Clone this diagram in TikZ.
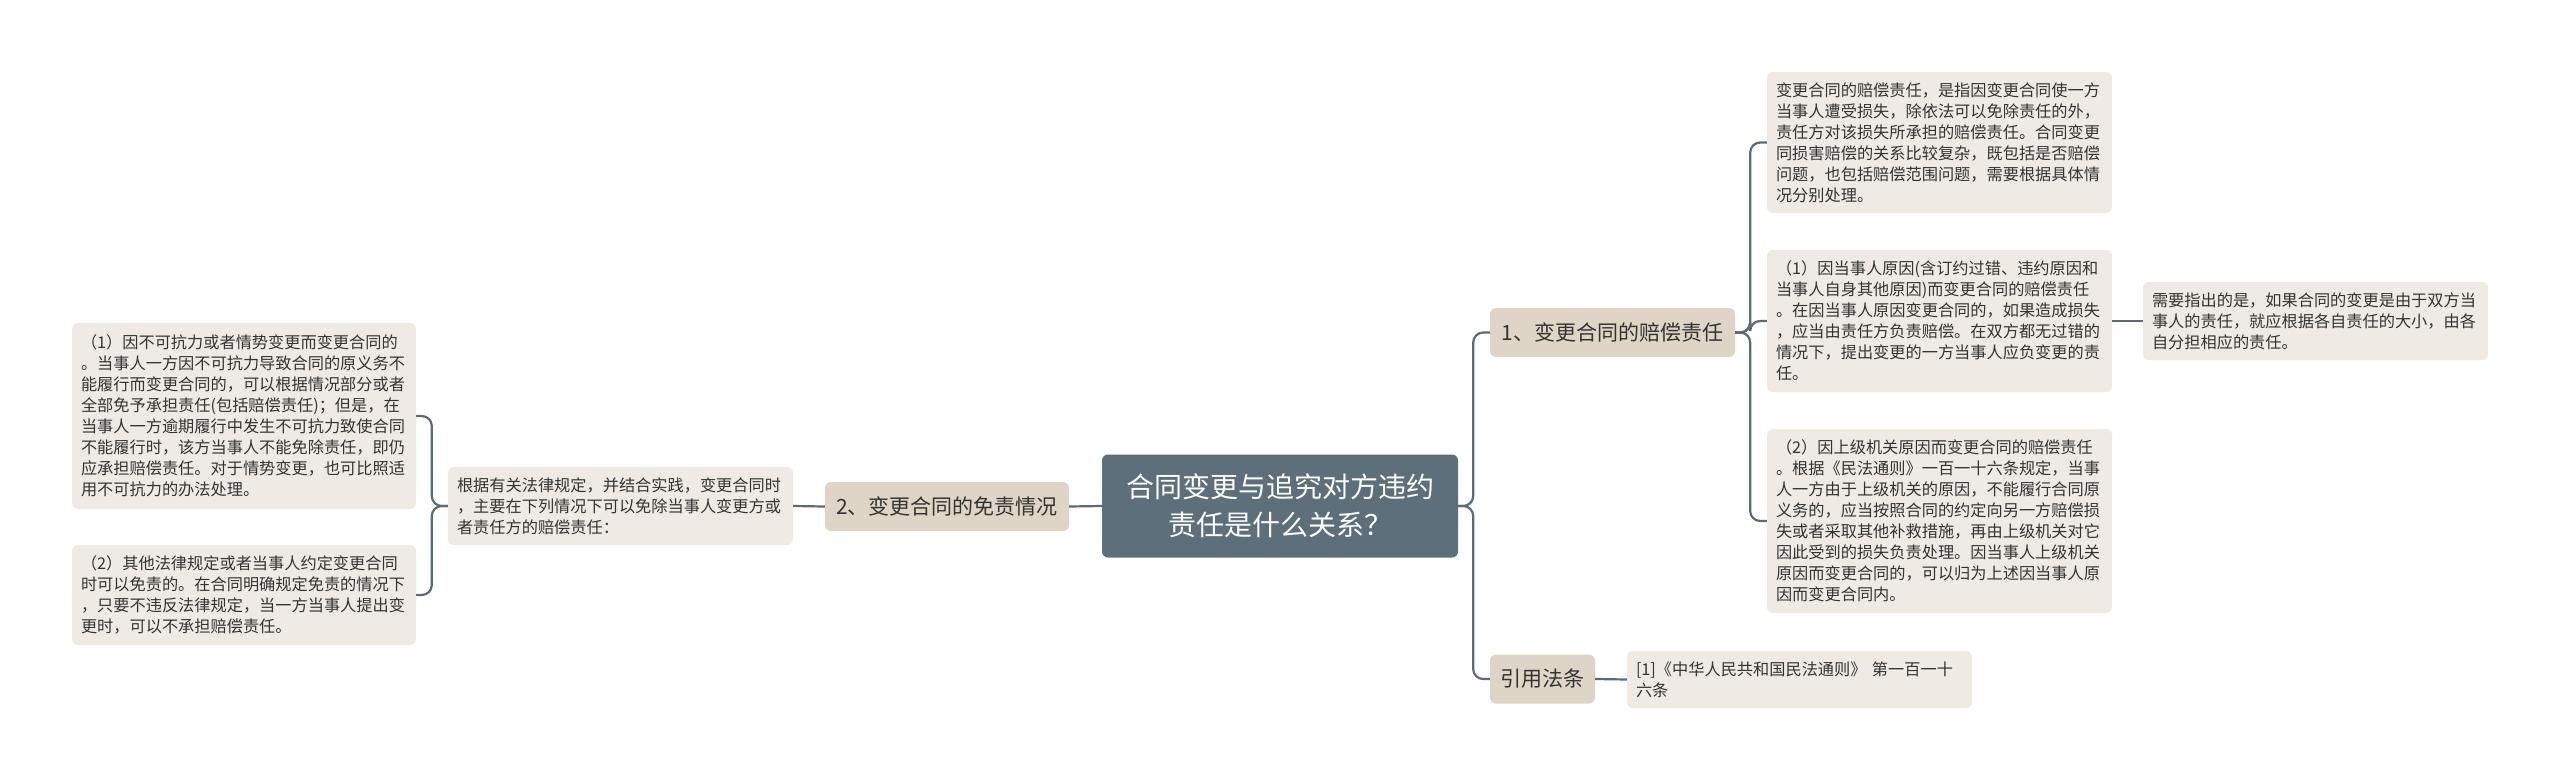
\documentclass[tikz,border=0pt]{standalone}
\usepackage{fontspec}
\setmainfont{Noto Sans CJK SC}
\definecolor{linec}{HTML}{5B6B77}
\definecolor{rootc}{HTML}{5C6F7B}
\definecolor{lvc}{HTML}{DFD5C7}
\definecolor{leafc}{HTML}{EFEBE4}
\definecolor{textc}{HTML}{333333}
\begin{document}
\begin{tikzpicture}[x=1pt,y=-1pt,
  conn/.style={draw=linec, line width=2.2pt, rounded corners=10pt},
  rootbox/.style={fill=rootc, rounded corners=6pt, text=white, font=\fontsize{28}{38}\selectfont, align=center, minimum width=356pt, minimum height=103pt, inner sep=0pt},
  lvbox/.style={fill=lvc, rounded corners=6pt, text=textc, font=\fontsize{21}{26}\selectfont, minimum height=49pt, inner sep=0pt},
  leafbox/.style={fill=leafc, rounded corners=6pt, text=textc, font=\fontsize{16.2}{21}\selectfont, align=left, text width=327pt, inner xsep=9pt, inner ysep=0pt},
]
\fill[white] (0,0) rectangle (2560,780);
\useasboundingbox (0,0) rectangle (2560,780);

\node[rootbox] (root) at (1280,506) {合同变更与追究对方违约\\责任是什么关系？};

\node[lvbox, minimum width=245pt] (n1) at (1612.5,332.5) {1、变更合同的赔偿责任};
\node[lvbox, minimum width=105pt] (n2) at (1542.5,679) {引用法条};
\node[lvbox, minimum width=244pt] (n3) at (947,506.5) {2、变更合同的免责情况};

\node[leafbox, minimum height=141pt] (r1) at (1939.5,142.5) {变更合同的赔偿责任，是指因变更合同使一方\\当事人遭受损失，除依法可以免除责任的外，\\责任方对该损失所承担的赔偿责任。合同变更\\同损害赔偿的关系比较复杂，既包括是否赔偿\\问题，也包括赔偿范围问题，需要根据具体情\\况分别处理。};
\node[leafbox, minimum height=142pt] (r2) at (1939.5,321) {（1）因当事人原因(含订约过错、违约原因和\\当事人自身其他原因)而变更合同的赔偿责任\\。在因当事人原因变更合同的，如果造成损失\\，应当由责任方负责赔偿。在双方都无过错的\\情况下，提出变更的一方当事人应负变更的责\\任。};
\node[leafbox, minimum height=184pt] (r3) at (1939.5,521) {（2）因上级机关原因而变更合同的赔偿责任\\。根据《民法通则》一百一十六条规定，当事\\人一方由于上级机关的原因，不能履行合同原\\义务的，应当按照合同的约定向另一方赔偿损\\失或者采取其他补救措施，再由上级机关对它\\因此受到的损失负责处理。因当事人上级机关\\原因而变更合同的，可以归为上述因当事人原\\因而变更合同内。};
\node[leafbox, minimum height=78pt] (rr) at (2315.5,321) {需要指出的是，如果合同的变更是由于双方当\\事人的责任，就应根据各自责任的大小，由各\\自分担相应的责任。};
\node[leafbox, minimum height=57pt] (cite) at (1799.5,679.5) {[1]《中华人民共和国民法通则》 第一百一十\\六条};

\node[leafbox, minimum height=78pt] (mid) at (620.5,506) {根据有关法律规定，并结合实践，变更合同时\\，主要在下列情况下可以免除当事人变更方或\\者责任方的赔偿责任：};
\node[leafbox, text width=326pt, minimum height=186pt] (l1) at (244,416) {（1）因不可抗力或者情势变更而变更合同的\\。当事人一方因不可抗力导致合同的原义务不\\能履行而变更合同的，可以根据情况部分或者\\全部免予承担责任(包括赔偿责任)；但是，在\\当事人一方逾期履行中发生不可抗力致使合同\\不能履行时，该方当事人不能免除责任，即仍\\应承担赔偿责任。对于情势变更，也可比照适\\用不可抗力的办法处理。};
\node[leafbox, text width=326pt, minimum height=100pt] (l2) at (244,595) {（2）其他法律规定或者当事人约定变更合同\\时可以免责的。在合同明确规定免责的情况下\\，只要不违反法律规定，当一方当事人提出变\\更时，可以不承担赔偿责任。};

\draw[conn] (root.east) -- ++(15,0) |- (n1.west);
\draw[conn] (root.east) -- ++(15,0) |- (n2.west);
\draw[conn] (root.west) -- (n3.east);
\draw[conn] (n1.east) -- ++(15,0) |- (r1.west);
\draw[conn] (n1.east) -- ++(15,0) |- (r2.west);
\draw[conn] (n1.east) -- ++(15,0) |- (r3.west);
\draw[conn] (r2.east) -- (rr.west);
\draw[conn] (n2.east) -- (cite.west);
\draw[conn] (n3.west) -- (mid.east);
\draw[conn] (mid.west) -- ++(-16,0) |- (l1.east);
\draw[conn] (mid.west) -- ++(-16,0) |- (l2.east);
\end{tikzpicture}
\end{document}
